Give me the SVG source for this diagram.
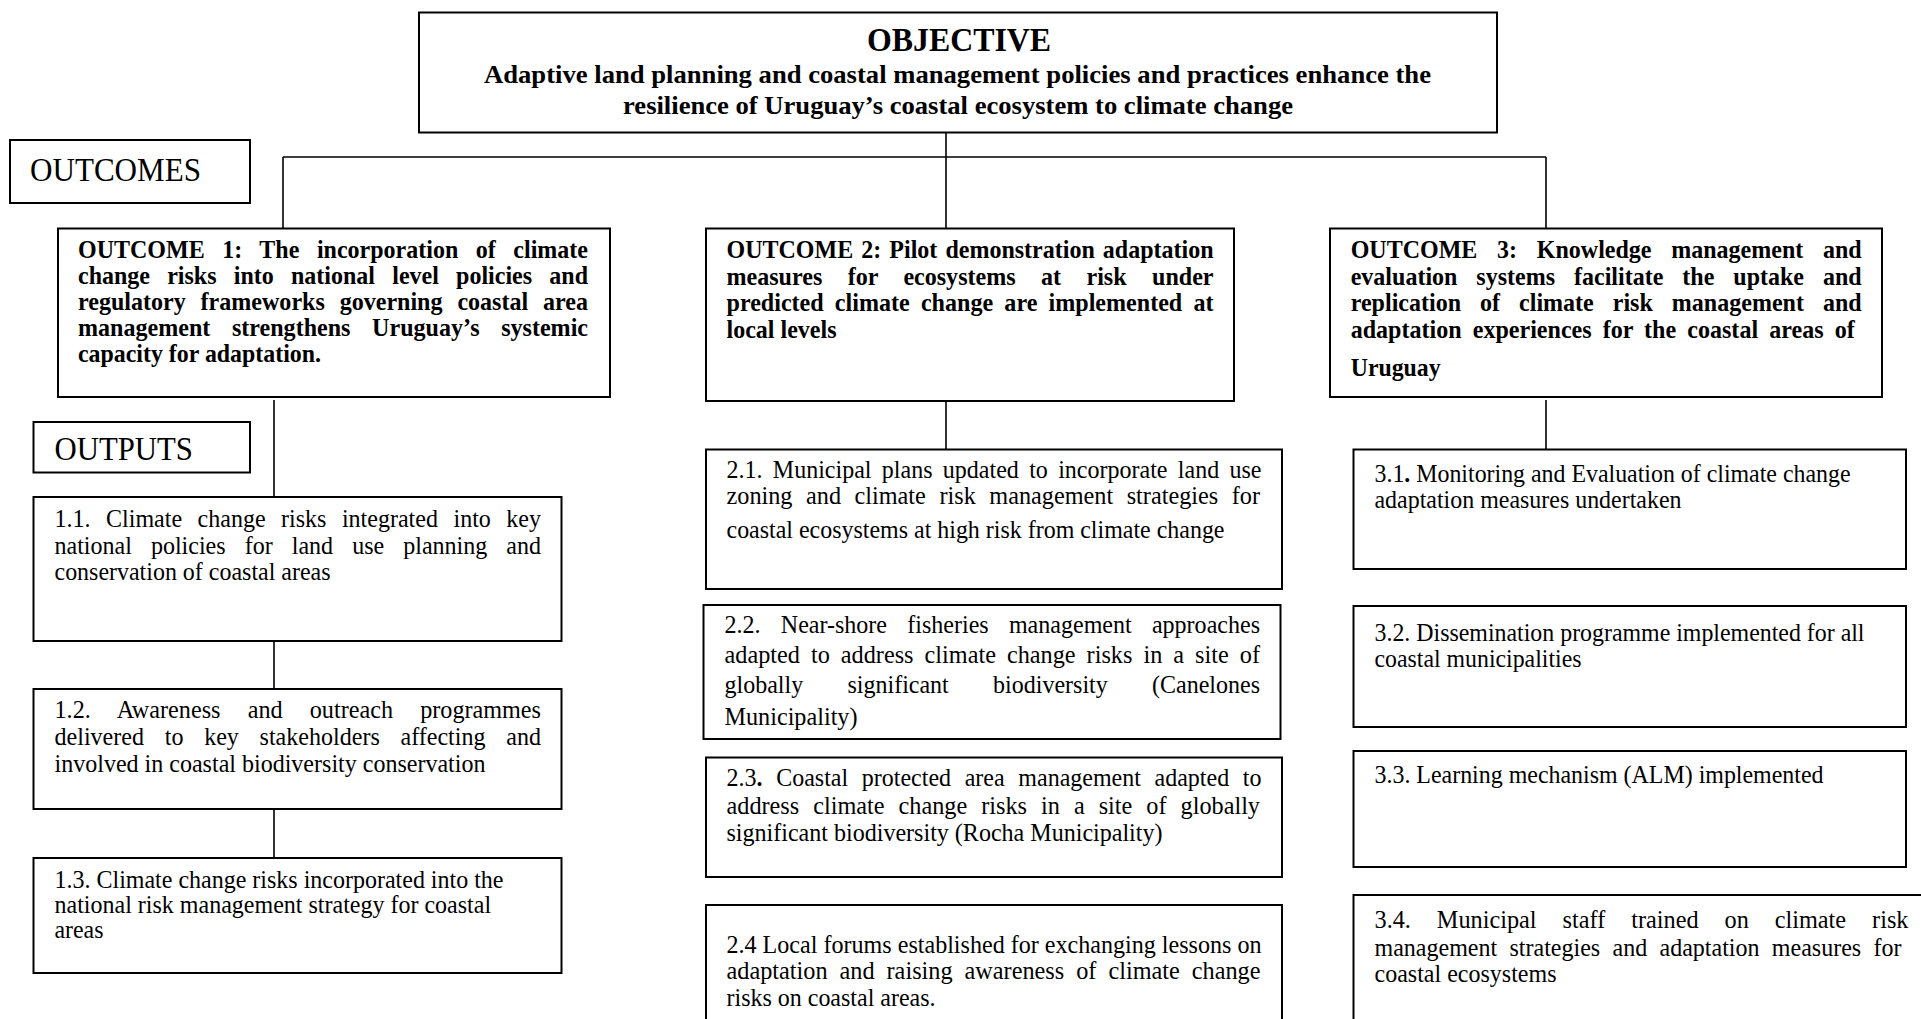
<svg xmlns="http://www.w3.org/2000/svg" width="1921" height="1019" viewBox="0 0 1921 1019">
<style>
.box{fill:#fff;stroke:#000;stroke-width:2}
.ln{fill:none;stroke:#000;stroke-width:1.6}
text{font-family:"Liberation Serif","Times New Roman",serif;font-size:25px;fill:#000}
.b{font-weight:bold}
.lab{font-size:33px}
.obj{font-size:26px;font-weight:bold}
.objt{font-size:33px;font-weight:bold}
</style>
<rect width="1921" height="1019" fill="#fff"/>
<g id="connectors">
<path class="ln" d="M946 132 V228.5"/>
<path class="ln" d="M283 157 H1546"/>
<path class="ln" d="M283 157 V228.5"/>
<path class="ln" d="M1546 157 V228.5"/>
<path class="ln" d="M274 400 V497"/>
<path class="ln" d="M274 641 V689"/>
<path class="ln" d="M274 809 V858"/>
<path class="ln" d="M946 377 V449.5"/>
<path class="ln" d="M1546 400 V453"/>
</g>
<g id="objective">
<rect class="box" x="419" y="12.5" width="1078" height="120"/>
<text class="objt" x="867" y="51" textLength="184" lengthAdjust="spacingAndGlyphs">OBJECTIVE</text>
<text class="obj" x="484" y="83" textLength="947" lengthAdjust="spacingAndGlyphs">Adaptive land planning and coastal management policies and practices enhance the</text>
<text class="obj" x="623" y="114" textLength="670" lengthAdjust="spacingAndGlyphs">resilience of Uruguay’s coastal ecosystem to climate change</text>
</g>
<g id="outcomes-label">
<rect class="box" x="10" y="140" width="240" height="63"/>
<text class="lab" x="30" y="181" textLength="171" lengthAdjust="spacingAndGlyphs">OUTCOMES</text>
</g>
<g id="outcome1">
<rect class="box" x="58" y="228.5" width="552" height="168.5"/>
<text class="b" x="78" y="258" style="word-spacing:12px" textLength="510" lengthAdjust="spacingAndGlyphs">OUTCOME 1: The incorporation of climate</text>
<text class="b" x="78" y="284" style="word-spacing:11.7px" textLength="510" lengthAdjust="spacingAndGlyphs">change risks into national level policies and</text>
<text class="b" x="78" y="310" style="word-spacing:9.2px" textLength="510" lengthAdjust="spacingAndGlyphs">regulatory frameworks governing coastal area</text>
<text class="b" x="78" y="336" style="word-spacing:16.25px" textLength="510" lengthAdjust="spacingAndGlyphs">management strengthens Uruguay’s systemic</text>
<text class="b" x="78" y="362" textLength="243" lengthAdjust="spacingAndGlyphs">capacity for adaptation.</text>
</g>
<g id="outcome2">
<rect class="box" x="706" y="228.5" width="528" height="172.5"/>
<text class="b" x="726.5" y="258" style="word-spacing:2.2px" textLength="487" lengthAdjust="spacingAndGlyphs">OUTCOME 2: Pilot demonstration adaptation</text>
<text class="b" x="726.5" y="284.5" style="word-spacing:20.2px" textLength="487" lengthAdjust="spacingAndGlyphs">measures for ecosystems at risk under</text>
<text class="b" x="726.5" y="311" style="word-spacing:5.4px" textLength="487" lengthAdjust="spacingAndGlyphs">predicted climate change are implemented at</text>
<text class="b" x="726.5" y="338" textLength="110" lengthAdjust="spacingAndGlyphs">local levels</text>
</g>
<g id="outcome3">
<rect class="box" x="1330" y="228.5" width="552" height="168.5"/>
<text class="b" x="1350.7" y="258" style="word-spacing:14.3px" textLength="511" lengthAdjust="spacingAndGlyphs">OUTCOME 3: Knowledge management and</text>
<text class="b" x="1350.7" y="284.5" style="word-spacing:13.5px" textLength="511" lengthAdjust="spacingAndGlyphs">evaluation systems facilitate the uptake and</text>
<text class="b" x="1350.7" y="311" style="word-spacing:13.5px" textLength="511" lengthAdjust="spacingAndGlyphs">replication of climate risk management and</text>
<text class="b" x="1350.7" y="338" style="word-spacing:5.3px" textLength="504" lengthAdjust="spacingAndGlyphs">adaptation experiences for the coastal areas of</text>
<text class="b" x="1350.7" y="376" textLength="90" lengthAdjust="spacingAndGlyphs">Uruguay</text>
</g>
<g id="outputs-label">
<rect class="box" x="33.5" y="422" width="216.5" height="50.5"/>
<text class="lab" x="54.5" y="460" textLength="138.5" lengthAdjust="spacingAndGlyphs">OUTPUTS</text>
</g>
<g id="output1-1">
<rect class="box" x="33.5" y="497" width="528" height="144"/>
<text x="54.5" y="527" style="word-spacing:9.9px" textLength="486.5" lengthAdjust="spacingAndGlyphs">1.1. Climate change risks integrated into key</text>
<text x="54.5" y="554" style="word-spacing:13.6px" textLength="486.5" lengthAdjust="spacingAndGlyphs">national policies for land use planning and</text>
<text x="54.5" y="580" textLength="276" lengthAdjust="spacingAndGlyphs">conservation of coastal areas</text>
</g>
<g id="output1-2">
<rect class="box" x="33.5" y="689" width="528" height="120"/>
<text x="54.5" y="718" style="word-spacing:21.9px" textLength="486.5" lengthAdjust="spacingAndGlyphs">1.2. Awareness and outreach programmes</text>
<text x="54.5" y="744.5" style="word-spacing:15.3px" textLength="486.5" lengthAdjust="spacingAndGlyphs">delivered to key stakeholders affecting and</text>
<text x="54.5" y="772" textLength="431" lengthAdjust="spacingAndGlyphs">involved in coastal biodiversity conservation</text>
</g>
<g id="output1-3">
<rect class="box" x="33.5" y="858" width="528" height="115"/>
<text x="54.5" y="888" textLength="449" lengthAdjust="spacingAndGlyphs">1.3. Climate change risks incorporated into the</text>
<text x="54.5" y="913" textLength="436.6" lengthAdjust="spacingAndGlyphs">national risk management strategy for coastal</text>
<text x="54.5" y="938" textLength="49" lengthAdjust="spacingAndGlyphs">areas</text>
</g>
<g id="output2-1">
<rect class="box" x="706" y="449.5" width="576" height="139.5"/>
<text x="726.5" y="477.5" style="word-spacing:4.5px" textLength="535" lengthAdjust="spacingAndGlyphs">2.1. Municipal plans updated to incorporate land use</text>
<text x="726.5" y="504" style="word-spacing:7.7px" textLength="533.5" lengthAdjust="spacingAndGlyphs">zoning and climate risk management strategies for</text>
<text x="726.5" y="537.5" textLength="498" lengthAdjust="spacingAndGlyphs">coastal ecosystems at high risk from climate change</text>
</g>
<g id="output2-2">
<rect class="box" x="703.5" y="605" width="577" height="134"/>
<text x="724.5" y="633" style="word-spacing:14.8px" textLength="535.5" lengthAdjust="spacingAndGlyphs">2.2. Near-shore fisheries management approaches</text>
<text x="724.5" y="662.5" style="word-spacing:5.1px" textLength="535.5" lengthAdjust="spacingAndGlyphs">adapted to address climate change risks in a site of</text>
<text x="724.5" y="692.5" style="word-spacing:39.9px" textLength="535.5" lengthAdjust="spacingAndGlyphs">globally significant biodiversity (Canelones</text>
<text x="724.5" y="724.5" textLength="133" lengthAdjust="spacingAndGlyphs">Municipality)</text>
</g>
<g id="output2-3">
<rect class="box" x="706" y="757.5" width="576" height="119.5"/>
<text x="726.5" y="786" style="word-spacing:8px" textLength="535" lengthAdjust="spacingAndGlyphs">2.3<tspan class="b">.</tspan> Coastal protected area management adapted to</text>
<text x="726.5" y="814" style="word-spacing:8.2px" textLength="533.5" lengthAdjust="spacingAndGlyphs">address climate change risks in a site of globally</text>
<text x="726.5" y="841" textLength="436" lengthAdjust="spacingAndGlyphs">significant biodiversity (Rocha Municipality)</text>
</g>
<g id="output2-4">
<rect class="box" x="706" y="905" width="576" height="135"/>
<text x="726.5" y="953" textLength="535" lengthAdjust="spacingAndGlyphs">2.4 Local forums established for exchanging lessons on</text>
<text x="726.5" y="979" style="word-spacing:6.1px" textLength="534" lengthAdjust="spacingAndGlyphs">adaptation and raising awareness of climate change</text>
<text x="726.5" y="1006" textLength="209" lengthAdjust="spacingAndGlyphs">risks on coastal areas.</text>
</g>
<g id="output3-1">
<rect class="box" x="1353.5" y="449.5" width="552.5" height="119.5"/>
<text x="1374.5" y="482" textLength="476" lengthAdjust="spacingAndGlyphs">3.1<tspan class="b">.</tspan> Monitoring and Evaluation of climate change</text>
<text x="1374.5" y="507.5" textLength="307" lengthAdjust="spacingAndGlyphs">adaptation measures undertaken</text>
</g>
<g id="output3-2">
<rect class="box" x="1353.5" y="606" width="552.5" height="121"/>
<text x="1374.5" y="641" textLength="490" lengthAdjust="spacingAndGlyphs">3.2. Dissemination programme implemented for all</text>
<text x="1374.5" y="667" textLength="207" lengthAdjust="spacingAndGlyphs">coastal municipalities</text>
</g>
<g id="output3-3">
<rect class="box" x="1353.5" y="751" width="552.5" height="116"/>
<text x="1374.5" y="783" textLength="449" lengthAdjust="spacingAndGlyphs">3.3. Learning mechanism (ALM) implemented</text>
</g>
<g id="output3-4">
<rect class="box" x="1353.5" y="895" width="600" height="145"/>
<text x="1374.5" y="928" style="word-spacing:20.5px" textLength="534" lengthAdjust="spacingAndGlyphs">3.4. Municipal staff trained on climate risk</text>
<text x="1374.5" y="955.5" style="word-spacing:6.6px" textLength="527" lengthAdjust="spacingAndGlyphs">management strategies and adaptation measures for</text>
<text x="1374.5" y="982" textLength="182" lengthAdjust="spacingAndGlyphs">coastal ecosystems</text>
</g>
</svg>
